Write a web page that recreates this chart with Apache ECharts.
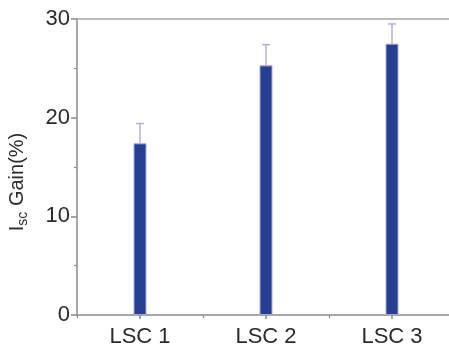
<!DOCTYPE html>
<html>
<head>
<meta charset="utf-8">
<script src="https://cdn.jsdelivr.net/npm/echarts@6/dist/echarts.min.js"></script>
<style>html,body{margin:0;padding:0;background:#fff}#c{width:449px;height:344px}</style>
</head>
<body>
<div id="c"></div>
<script>
var categories = ['LSC 1', 'LSC 2', 'LSC 3'];
var gainValues = [17.4, 25.3, 27.5];
var gainErrors = [2.0, 2.1, 2.0];
var yTicks = [0, 10, 20, 30];

var chart = echarts.init(document.getElementById('c'));
var labelFont = {fontFamily: 'Liberation Sans, Arial, sans-serif', fontSize: 22, color: '#2b2b2b'};
var axisColor = '#8a8a8a';

chart.setOption({
  animation: false,
  grid: {left: 77, top: 19, bottom: 29, right: -6, outerBoundsMode: 'none', containLabel: false},
  xAxis: [{
    type: 'category', data: categories, position: 'bottom',
    axisLine: {lineStyle: {color: axisColor, width: 1.5}},
    axisTick: {show: true, alignWithLabel: true, length: 4, lineStyle: {color: axisColor, width: 1.5}},
    axisLabel: Object.assign({margin: 11}, labelFont),
    splitLine: {show: false}
  }, {
    type: 'category', data: categories, position: 'bottom', gridIndex: 0,
    axisLine: {show: false},
    axisTick: {show: true, length: 3, lineStyle: {color: axisColor, width: 1.2}},
    axisLabel: {show: false}
  }, {
    type: 'category', data: categories, position: 'top',
    axisLine: {show: true, lineStyle: {color: '#a8a8a8', width: 1.5}},
    axisTick: {show: false}, axisLabel: {show: false}
  }],
  yAxis: {
    type: 'value', min: yTicks[0], max: yTicks[yTicks.length - 1], interval: 10,
    axisLine: {show: true, lineStyle: {color: axisColor, width: 1.5}},
    axisTick: {show: true, length: 6, lineStyle: {color: axisColor, width: 1.5}},
    minorTick: {show: true, splitNumber: 2, length: 3, lineStyle: {color: axisColor, width: 1.2}},
    splitLine: {show: false},
    axisLabel: Object.assign({margin: 7}, labelFont),
    name: '{m|I}{s|sc}{m| Gain(%)}',
    nameLocation: 'middle', nameRotate: 90, nameGap: 47,
    nameTextStyle: {
      padding: [0, 30, 0, 0],
      rich: {
        m: {fontFamily: 'Liberation Sans, Arial, sans-serif', fontSize: 20, color: '#2b2b2b'},
        s: {fontFamily: 'Liberation Sans, Arial, sans-serif', fontSize: 14, color: '#2b2b2b', padding: [12, 0, 0, 0]}
      }
    }
  },
  series: [{
    type: 'bar', data: gainValues, barWidth: 13,
    itemStyle: {color: '#273f93', borderColor: '#a6a6dc', borderWidth: 1}
  }, {
    type: 'custom',
    data: categories.map(function (c, i) { return [i, gainValues[i], gainValues[i] + gainErrors[i]]; }),
    renderItem: function (params, api) {
      var lo = api.coord([api.value(0), api.value(1)]);
      var hi = api.coord([api.value(0), api.value(2)]);
      var style = {stroke: '#b3aee2', lineWidth: 1.5};
      return {type: 'group', children: [
        {type: 'line', shape: {x1: lo[0], y1: lo[1], x2: hi[0], y2: hi[1]}, style: style},
        {type: 'line', shape: {x1: hi[0] - 4, y1: hi[1], x2: hi[0] + 4, y2: hi[1]}, style: style}
      ]};
    },
    z: 1
  }]
});
</script>
</body>
</html>
